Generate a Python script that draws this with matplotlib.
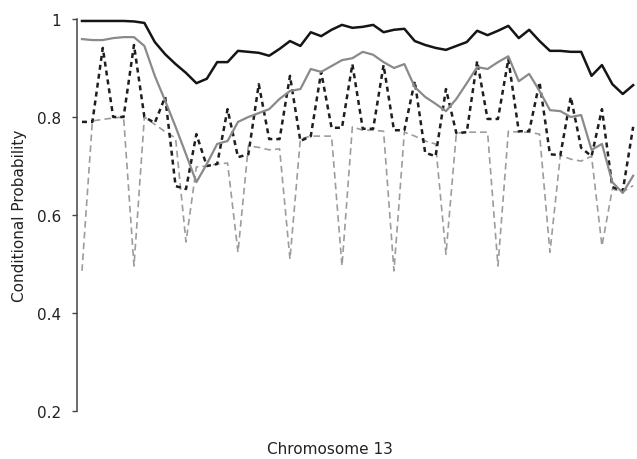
import matplotlib
matplotlib.use("Agg")
import matplotlib.pyplot as plt
import numpy as np

# marker index along chromosome 13 (evenly spaced in the source figure)
positions = np.arange(54)

black_solid = [0.996, 0.996, 0.996, 0.996, 0.996, 0.995, 0.992, 0.953, 0.928, 0.908,
               0.890, 0.869, 0.878, 0.912, 0.912, 0.935, 0.933, 0.931, 0.925, 0.939,
               0.955, 0.945, 0.973, 0.965, 0.978, 0.988, 0.982, 0.984, 0.988, 0.973,
               0.978, 0.980, 0.955, 0.947, 0.941, 0.937, 0.945, 0.953, 0.976, 0.967,
               0.976, 0.986, 0.961, 0.978, 0.955, 0.935, 0.935, 0.933, 0.933, 0.884,
               0.906, 0.867, 0.847, 0.865]

gray_solid = [0.959, 0.957, 0.957, 0.961, 0.963, 0.963, 0.945, 0.884, 0.833, 0.780,
              0.724, 0.667, 0.704, 0.745, 0.751, 0.790, 0.800, 0.808, 0.816, 0.837,
              0.853, 0.857, 0.898, 0.892, 0.904, 0.916, 0.920, 0.933, 0.927, 0.912,
              0.900, 0.908, 0.861, 0.841, 0.827, 0.812, 0.837, 0.869, 0.902, 0.898,
              0.912, 0.924, 0.873, 0.888, 0.853, 0.814, 0.812, 0.800, 0.804, 0.733,
              0.745, 0.667, 0.645, 0.680]

black_dotted = [0.790, 0.790, 0.941, 0.800, 0.800, 0.947, 0.800, 0.788, 0.841, 0.659,
                0.653, 0.765, 0.700, 0.704, 0.816, 0.718, 0.724, 0.867, 0.755, 0.755,
                0.884, 0.751, 0.761, 0.892, 0.778, 0.778, 0.908, 0.776, 0.776, 0.906,
                0.773, 0.773, 0.873, 0.727, 0.720, 0.857, 0.767, 0.769, 0.914, 0.796,
                0.796, 0.918, 0.771, 0.771, 0.871, 0.724, 0.722, 0.841, 0.737, 0.720,
                0.816, 0.657, 0.649, 0.780]

gray_dashed = [0.486, 0.792, 0.795, 0.798, 0.800, 0.496, 0.800, 0.785, 0.770, 0.757,
               0.545, 0.698, 0.700, 0.704, 0.706, 0.524, 0.741, 0.738, 0.733, 0.735,
               0.510, 0.755, 0.761, 0.761, 0.761, 0.496, 0.780, 0.773, 0.773, 0.771,
               0.486, 0.769, 0.761, 0.751, 0.745, 0.520, 0.767, 0.769, 0.769, 0.769,
               0.496, 0.771, 0.769, 0.769, 0.765, 0.524, 0.722, 0.714, 0.710, 0.720,
               0.537, 0.653, 0.647, 0.660]

yticks = [0.2, 0.4, 0.6, 0.8, 1.0]
ytick_labels = ["0.2", "0.4", "0.6", "0.8", "1"]

fig = plt.figure(figsize=(6.37, 4.60), dpi=100)
ax = fig.add_axes([77 / 637, 48 / 460, 560 / 637, 392 / 460])

ax.plot(positions, gray_dashed, color="#9c9c9c", lw=1.2, ls=(0, (4, 2.5)), clip_on=False)
ax.plot(positions, black_dotted, color="#1e1e1e", lw=1.8, ls=(0, (2, 1.6)), clip_on=False)
ax.plot(positions, gray_solid, color="#8a8a8a", lw=1.6, clip_on=False)
ax.plot(positions, black_solid, color="#151515", lw=1.8, clip_on=False)

ax.set_xlim(-0.48, 53.37)
ax.set_ylim(0.2, 1.0)
ax.set_xticks([])
ax.set_yticks(yticks)
ax.set_yticklabels(ytick_labels)
ax.tick_params(axis="y", direction="out", length=3.5, width=1, color="#444444",
               labelsize=11, labelcolor="#222222", pad=8)
for side in ["top", "right", "bottom"]:
    ax.spines[side].set_visible(False)
ax.spines["left"].set_color("#444444")
ax.spines["left"].set_linewidth(1.1)

fig.text(20 / 637, 1 - 216 / 460, "Conditional Probability", rotation=90,
         ha="center", va="center", fontsize=11, color="#222222")
fig.text(330 / 637, 1 - 450 / 460, "Chromosome 13", ha="center", va="center",
         fontsize=11, color="#222222")

fig.savefig("out.png", dpi=100)
